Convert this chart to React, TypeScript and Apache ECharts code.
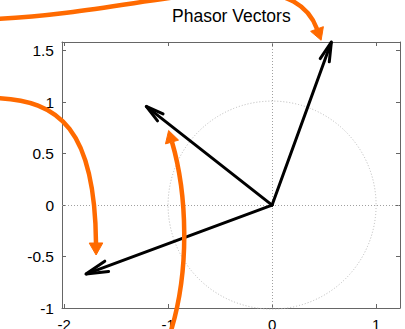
import React, { useEffect, useRef } from "react";
import * as echarts from "echarts";

// Phasor vectors (real, imaginary)
const vectorX = [0.57, -1.21, -1.79];
const vectorY = [1.585, 0.96, -0.67];
const circleRadius = [1];
const xTicks = [-2, -1, 0, 1];
const yTicks = [-1, -0.5, 0, 0.5, 1, 1.5];
const xRange = [-2.02, 1.23];
const yRange = [-1, 1.585];
const titleText = "Phasor Vectors";

const FONT = "'Liberation Sans', Helvetica, Arial, sans-serif";
const ORANGE = "#ff6a00";
const AXIS_COLOR = "#666";

type Pt = [number, number];

function orangeArrow(p0: Pt, c1: Pt, c2: Pt, p3: Pt) {
  const dx = p3[0] - c2[0];
  const dy = p3[1] - c2[1];
  const L = Math.hypot(dx, dy);
  const ux = dx / L, uy = dy / L;
  const hl = 12, hw = 6.8;
  const tip: Pt = [p3[0] + ux * hl, p3[1] + uy * hl];
  const a: Pt = [p3[0] - uy * hw, p3[1] + ux * hw];
  const b: Pt = [p3[0] + uy * hw, p3[1] - ux * hw];
  return [
    {
      type: "bezierCurve",
      silent: true,
      z: 100,
      shape: {
        x1: p0[0], y1: p0[1], cpx1: c1[0], cpy1: c1[1],
        cpx2: c2[0], cpy2: c2[1], x2: p3[0], y2: p3[1],
      },
      style: { stroke: ORANGE, lineWidth: 4.5, fill: null },
    },
    {
      type: "polygon",
      silent: true,
      z: 100,
      shape: { points: [tip, a, b] },
      style: { fill: ORANGE, stroke: ORANGE, lineWidth: 1 },
    },
  ];
}

export default function App() {
  const ref = useRef<HTMLDivElement>(null);
  useEffect(() => {
    if (!ref.current) return;
    const chart = echarts.init(ref.current, null, { renderer: "svg" });
    const vectors = vectorX.map((x, i) => [x, vectorY[i]]);

    const axisCommon = {
      axisLine: { show: true, onZero: false, lineStyle: { color: AXIS_COLOR, width: 1 } },
      splitLine: { show: false },
    };

    chart.setOption({
      animation: false,
      backgroundColor: "#fff",
      title: {
        text: titleText,
        left: 172,
        top: 7,
        padding: 0,
        textStyle: { fontFamily: FONT, fontSize: 17.5, fontWeight: "normal", color: "#000" },
      },
      grid: {
        left: 62,
        top: 42,
        right: 5,
        bottom: 21,
        containLabel: false,
        outerBoundsMode: "none",
      },
      xAxis: [
        {
          type: "value",
          position: "bottom",
          min: xRange[0],
          max: xRange[1],
          ...axisCommon,
          axisTick: { show: true, inside: true, length: 4, customValues: xTicks, lineStyle: { color: AXIS_COLOR } },
          axisLabel: {
            show: true,
            customValues: xTicks,
            margin: 9,
            fontFamily: FONT,
            fontSize: 15,
            color: "#000",
            formatter: (v: number) => String(v),
          },
        },
        {
          type: "value",
          position: "top",
          min: xRange[0],
          max: xRange[1],
          ...axisCommon,
          axisTick: { show: true, inside: true, length: 4, customValues: xTicks, lineStyle: { color: AXIS_COLOR } },
          axisLabel: { show: false },
        },
      ],
      yAxis: [
        {
          type: "value",
          position: "left",
          min: yRange[0],
          max: yRange[1],
          ...axisCommon,
          axisTick: { show: true, inside: true, length: 4, customValues: yTicks, lineStyle: { color: AXIS_COLOR } },
          axisLabel: {
            show: true,
            customValues: yTicks,
            margin: 8,
            fontFamily: FONT,
            fontSize: 15.5,
            color: "#000",
            formatter: (v: number) => String(v),
          },
        },
        {
          type: "value",
          position: "right",
          min: yRange[0],
          max: yRange[1],
          ...axisCommon,
          axisTick: { show: true, inside: true, length: 4, customValues: yTicks, lineStyle: { color: AXIS_COLOR } },
          axisLabel: { show: false },
        },
      ],
      series: [
        {
          type: "custom",
          name: "unit circle",
          xAxisIndex: 0,
          yAxisIndex: 0,
          clip: false,
          silent: true,
          data: circleRadius.map((r) => [0, 0, r]),
          renderItem: (params: any, api: any) => {
            const c = api.coord([api.value(0), api.value(1)]);
            const r = api.size([api.value(2), 0])[0];
            return {
              type: "circle",
              shape: { cx: c[0], cy: c[1], r },
              style: { stroke: "#b8b8b8", fill: null, lineWidth: 1, lineDash: [1, 2] },
            };
          },
          markLine: {
            silent: true,
            symbol: "none",
            label: { show: false },
            lineStyle: { color: "#a0a0a0", type: [1, 2], width: 1 },
            data: [{ xAxis: 0 }, { yAxis: 0 }],
          },
          z: 1,
        },
        {
          type: "custom",
          name: "phasors",
          xAxisIndex: 0,
          yAxisIndex: 0,
          clip: false,
          silent: true,
          data: vectors,
          z: 5,
          renderItem: (params: any, api: any) => {
            const p0 = api.coord([0, 0]);
            const p1 = api.coord([api.value(0), api.value(1)]);
            const dx = p1[0] - p0[0];
            const dy = p1[1] - p0[1];
            const L = Math.hypot(dx, dy);
            const bx = -dx / L, by = -dy / L;
            const h = 0.115 * L;
            const ang = (14 * Math.PI) / 180;
            const rot = (t: number) => [
              p1[0] + h * (bx * Math.cos(t) - by * Math.sin(t)),
              p1[1] + h * (bx * Math.sin(t) + by * Math.cos(t)),
            ];
            return {
              type: "group",
              children: [
                {
                  type: "line",
                  shape: { x1: p0[0], y1: p0[1], x2: p1[0], y2: p1[1] },
                  style: { stroke: "#000", lineWidth: 3, lineCap: "round" },
                },
                {
                  type: "polyline",
                  shape: { points: [rot(ang), p1, rot(-ang)] },
                  style: { stroke: "#000", lineWidth: 3, fill: null, lineJoin: "miter", lineCap: "round" },
                },
              ],
            };
          },
        },
      ],
      graphic: [
        ...orangeArrow([-5, 19], [150, 12], [290, -45], [317, 29]),
        ...orangeArrow([-5, 98], [60, 100], [95, 130], [96, 243]),
        ...orangeArrow([168, 340], [192, 270], [186, 190], [172, 142]),
      ],
    });
    return () => chart.dispose();
  }, []);

  return (
    <div
      ref={ref}
      style={{ position: "fixed", left: 0, top: 0, width: 405, height: 329 }}
    />
  );
}
